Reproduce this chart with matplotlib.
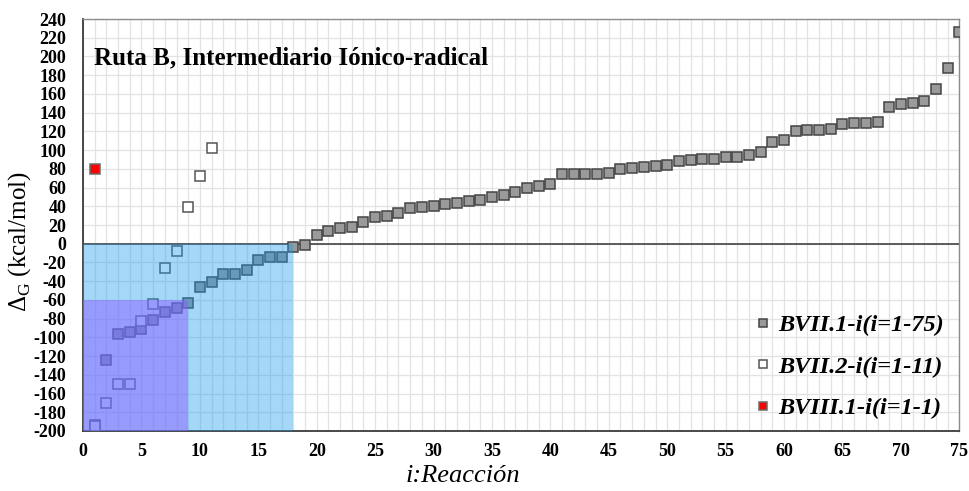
import matplotlib.pyplot as plt
from matplotlib.patches import Rectangle
from matplotlib.ticker import MultipleLocator

# BVII.1-i, i = 1..75
bvii1_x = list(range(1, 76))
bvii1_y = [-194, -124, -96, -94, -91, -81, -73, -69, -63, -46,
           -41, -32, -32, -28, -17, -14, -14, -4, -1, 9,
           14, 17, 18, 23, 29, 30, 33, 38, 39, 40,
           42, 43, 46, 47, 50, 52, 55, 60, 62, 64,
           74, 74, 74, 75, 76, 80, 81, 82, 83, 84,
           88, 89, 90, 90, 93, 93, 95, 98, 109, 111,
           120, 121, 121, 122, 128, 129, 129, 130, 146, 149,
           150, 152, 165, 188, 226]

# BVII.2-i, i = 1..11
bvii2_x = list(range(1, 12))
bvii2_y = [-195, -170, -150, -150, -83, -64, -26, -8, 39, 72, 102]

# BVIII.1-i, i = 1
bviii1_x = [1]
bviii1_y = [80]

legend_labels = ["BVII.1-i(i=1-75)", "BVII.2-i(i=1-11)", "BVIII.1-i(i=1-1)"]

serif = ["Liberation Serif", "DejaVu Serif"]
plt.rcParams["axes.unicode_minus"] = False
plt.rcParams["mathtext.fontset"] = "custom"
plt.rcParams["mathtext.rm"] = "Liberation Serif"

fig = plt.figure(figsize=(9.69, 4.91), dpi=100)
ax = fig.add_axes([0.0857, 0.1222, 0.9043, 0.8391])

ax.set_xlim(0, 75)
ax.set_ylim(-200, 240)
ax.xaxis.set_major_locator(MultipleLocator(5))
ax.xaxis.set_minor_locator(MultipleLocator(1))
ax.yaxis.set_major_locator(MultipleLocator(20))
ax.grid(which="both", color="#e3e3e3", linewidth=0.9, zorder=0)
ax.set_axisbelow(True)
ax.tick_params(which="both", length=0)
ax.tick_params(axis="y", pad=12)
ax.tick_params(axis="x", pad=9)
for lab in ax.get_xticklabels() + ax.get_yticklabels():
    lab.set_fontfamily(serif)
    lab.set_fontweight("bold")
    lab.set_fontsize(13)

for side in ["left", "bottom"]:
    ax.spines[side].set_color("#3a3a3a")
    ax.spines[side].set_linewidth(1.3)
for side in ["top", "right"]:
    ax.spines[side].set_color("#8c8c8c")
    ax.spines[side].set_linewidth(1.0)

ax.axhline(0, color="#333333", linewidth=1.1, zorder=2)

ms = 7.3
h1, = ax.plot(bvii1_x, bvii1_y, "s", ms=ms, mfc="#9a9a9a", mec="#444444",
              mew=1.1, zorder=3)
h2, = ax.plot(bvii2_x, bvii2_y, "s", ms=ms, mfc="white", mec="#555555",
              mew=1.1, zorder=3)
h3, = ax.plot(bviii1_x, bviii1_y, "s", ms=ms, mfc="#ff0000", mec="#6a6a6a",
              mew=1.1, zorder=3)

# shaded regions drawn over the markers
ax.add_patch(Rectangle((0, -200), 18, 200, facecolor="#1e9bf0", alpha=0.4,
                       linewidth=0, zorder=4))
ax.add_patch(Rectangle((0, -200), 9, 140, facecolor="#8a60ff", alpha=0.5,
                       linewidth=0, zorder=4))

ax.text(0.012, 0.905, "Ruta B, Intermediario Iónico-radical",
        transform=ax.transAxes, family=serif, fontweight="bold",
        fontsize=18, va="center", ha="left")

ax.set_xlabel("i:Reacción", family=serif, style="italic", fontsize=19)
ax.xaxis.set_label_coords(0.434, -0.082)
ax.set_ylabel(r"$\Delta_{\mathrm{G}}$ (kcal/mol)", family=serif,
              fontsize=18)
ax.yaxis.set_label_coords(-0.057, 0.46)

leg = ax.legend([h1, h2, h3], legend_labels, loc="lower right",
                frameon=False, markerscale=0.8, handlelength=0.6,
                handletextpad=0.35, labelspacing=0.8,
                bbox_to_anchor=(1.008, -0.025),
                prop={"family": serif, "weight": "bold", "style": "italic",
                      "size": 17.5})

fig.savefig("out.png", dpi=100)
